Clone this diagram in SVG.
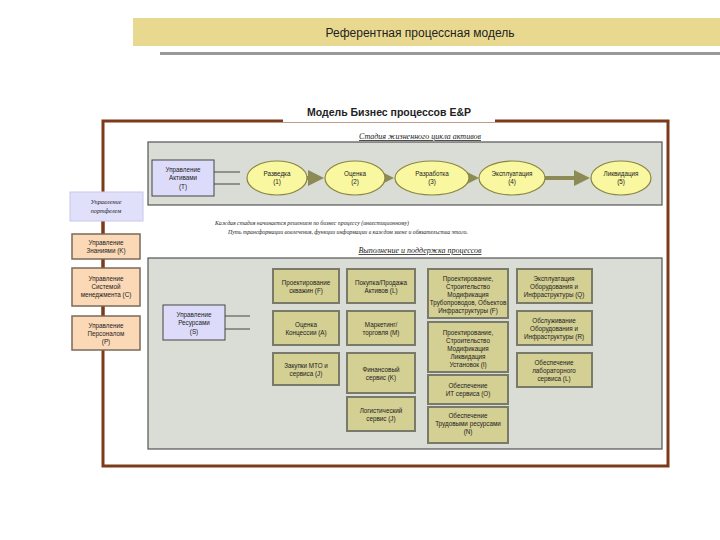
<svg xmlns="http://www.w3.org/2000/svg" width="720" height="540" viewBox="0 0 720 540">
<style>
text{font-family:"Liberation Sans",Arial,sans-serif;fill:#222}
.s{font-size:6.3px;text-anchor:middle}
.i{font-family:"Liberation Serif",serif;font-style:italic}
.ob{fill:#d4cf92;stroke:#7a7a6a;stroke-width:2}
.pe{fill:#fbd9b6;stroke:#7a6a5a;stroke-width:1.5}
.bl{fill:#dcdcfa;stroke:#444;stroke-width:1}
.el{fill:#f9f7a0;stroke:#8a8840;stroke-width:1.2}
.pn{fill:#d9ddd5;stroke:#555;stroke-width:1.2}
</style>
<defs>
<marker id="ar" markerWidth="4" markerHeight="4" refX="3" refY="2" orient="auto"><path d="M0,0L4,2L0,4z" fill="#8c8a55"/></marker>
</defs>
<rect x="133" y="18" width="587" height="28" fill="#e9d990"/>
<text x="420" y="37" font-size="12" text-anchor="middle">Референтная процессная модель</text>
<rect x="160" y="52" width="560" height="3" fill="#999"/>
<rect x="103" y="121" width="565" height="345" fill="#fff" stroke="#7b3b1b" stroke-width="3"/>
<rect x="283" y="104" width="212" height="18" fill="#fff"/>
<text x="389" y="116" font-size="10.5" font-weight="bold" text-anchor="middle">Модель Бизнес процессов E&amp;P</text>
<line x1="103" y1="192" x2="103" y2="350" stroke="#7b3b1b" stroke-width="3"/>
<text x="420" y="139" class="i" font-size="8" text-anchor="middle" text-decoration="underline">Стадия жизненного цикла активов</text>
<rect class="pn" x="148" y="142" width="514" height="63"/>
<text x="215" y="225" class="i" font-size="5.8">Каждая стадия начинается решением по бизнес процессу (инвестиционному)</text>
<text x="228" y="234" class="i" font-size="5.8">Путь трансформации вовлечения, функции информации в каждом звене и обязательства этого.</text>
<text x="420" y="253" class="i" font-size="8" text-anchor="middle" text-decoration="underline">Выполнение и поддержка процессов</text>
<rect class="pn" x="148" y="258" width="514" height="191"/>
<g id="connectors" stroke="#8c8a55" stroke-width="4" marker-end="url(#ar)">
<line x1="214" y1="172" x2="240" y2="172" stroke="#444" stroke-width="1" marker-end="none"/>
<line x1="214" y1="184" x2="240" y2="184" stroke="#444" stroke-width="1" marker-end="none"/>
<line x1="307" y1="178" x2="320" y2="178"/>
<line x1="385" y1="178" x2="390" y2="178"/>
<line x1="469" y1="178" x2="475" y2="178"/>
<line x1="545" y1="178" x2="586" y2="178"/>
<line x1="225" y1="316" x2="250" y2="316" stroke="#444" stroke-width="1" marker-end="none"/>
<line x1="225" y1="329" x2="250" y2="329" stroke="#444" stroke-width="1" marker-end="none"/>
</g>
<g id="n_T"><rect class="bl" x="152" y="160" width="62" height="36"/><text class="s" x="183" y="172">Управление</text><text class="s" x="183" y="180">Активами</text><text class="s" x="183" y="189">(T)</text></g>
<g id="e1"><ellipse class="el" cx="277" cy="178" rx="30" ry="17"/><text class="s" x="277" y="176">Разведка</text><text class="s" x="277" y="184">(1)</text></g>
<g id="e2"><ellipse class="el" cx="355" cy="178" rx="30" ry="17"/><text class="s" x="355" y="176">Оценка</text><text class="s" x="355" y="184">(2)</text></g>
<g id="e3"><ellipse class="el" cx="432" cy="178" rx="37" ry="17"/><text class="s" x="432" y="176">Разработка</text><text class="s" x="432" y="184">(3)</text></g>
<g id="e4"><ellipse class="el" cx="512" cy="178" rx="33" ry="17"/><text class="s" x="512" y="176">Эксплуатация</text><text class="s" x="512" y="184">(4)</text></g>
<g id="e5"><ellipse class="el" cx="621" cy="178" rx="30" ry="17"/><text class="s" x="621" y="176">Ликвидация</text><text class="s" x="621" y="184">(5)</text></g>
<g id="portf"><rect x="70" y="192" width="73" height="29" fill="#e0e0fb" stroke="#c8c8e8"/><text class="s i" font-size="6.5" x="106" y="204">Управление</text><text class="s i" font-size="6.5" x="106" y="213">портфелем</text></g>
<g id="n_K"><rect class="pe" x="72" y="234" width="68" height="25"/><text class="s" x="106" y="245">Управление</text><text class="s" x="106" y="253">Знаниями (K)</text></g>
<g id="n_C"><rect class="pe" x="72" y="268" width="68" height="38"/><text class="s" x="106" y="281">Управление</text><text class="s" x="106" y="289">Системой</text><text class="s" x="106" y="297">менеджмента (C)</text></g>
<g id="n_P"><rect class="pe" x="72" y="316" width="68" height="34"/><text class="s" x="106" y="328">Управление</text><text class="s" x="106" y="336">Персоналом</text><text class="s" x="106" y="344">(P)</text></g>
<g id="n_S"><rect class="bl" x="163" y="305" width="62" height="35"/><text class="s" x="194" y="317">Управление</text><text class="s" x="194" y="325">Ресурсами</text><text class="s" x="194" y="334">(S)</text></g>
<g id="b1"><rect class="ob" x="273" y="269" width="66" height="34"/><text class="s" x="306" y="285">Проектирование</text><text class="s" x="306" y="293">скважин (F)</text></g>
<g id="b2"><rect class="ob" x="273" y="311" width="66" height="34"/><text class="s" x="306" y="327">Оценка</text><text class="s" x="306" y="335">Концессии (A)</text></g>
<g id="b3"><rect class="ob" x="273" y="353" width="66" height="32"/><text class="s" x="306" y="368">Закупки МТО и</text><text class="s" x="306" y="376">сервиса (J)</text></g>
<g id="b4"><rect class="ob" x="347" y="269" width="68" height="34"/><text class="s" x="381" y="285">Покупка/Продажа</text><text class="s" x="381" y="293">Активов (L)</text></g>
<g id="b5"><rect class="ob" x="347" y="311" width="68" height="34"/><text class="s" x="381" y="327">Маркетинг/</text><text class="s" x="381" y="335">торговля (M)</text></g>
<g id="b6"><rect class="ob" x="347" y="353" width="68" height="40"/><text class="s" x="381" y="372">Финансовый</text><text class="s" x="381" y="380">сервис (K)</text></g>
<g id="b7"><rect class="ob" x="347" y="397" width="68" height="34"/><text class="s" x="381" y="413">Логистический</text><text class="s" x="381" y="421">сервис (J)</text></g>
<g id="b8"><rect class="ob" x="428" y="269" width="80" height="49"/><text class="s" x="468" y="281">Проектирование,</text><text class="s" x="468" y="289">Строительство</text><text class="s" x="468" y="297">Модификация</text><text class="s" x="468" y="305">Трубопроводов, Объектов</text><text class="s" x="468" y="313">Инфраструктуры (F)</text></g>
<g id="b9"><rect class="ob" x="428" y="322" width="80" height="50"/><text class="s" x="468" y="335">Проектирование,</text><text class="s" x="468" y="343">Строительство</text><text class="s" x="468" y="351">Модификация</text><text class="s" x="468" y="359">Ликвидация</text><text class="s" x="468" y="367">Установок (I)</text></g>
<g id="b10"><rect class="ob" x="428" y="375" width="80" height="29"/><text class="s" x="468" y="388">Обеспечение</text><text class="s" x="468" y="396">ИТ сервиса (O)</text></g>
<g id="b11"><rect class="ob" x="428" y="407" width="80" height="36"/><text class="s" x="468" y="418">Обеспечение</text><text class="s" x="468" y="426">Трудовыми ресурсами</text><text class="s" x="468" y="434">(N)</text></g>
<g id="b12"><rect class="ob" x="517" y="269" width="75" height="34"/><text class="s" x="554" y="281">Эксплуатация</text><text class="s" x="554" y="289">Оборудования и</text><text class="s" x="554" y="297">Инфраструктуры (Q)</text></g>
<g id="b13"><rect class="ob" x="517" y="311" width="75" height="34"/><text class="s" x="554" y="323">Обслуживание</text><text class="s" x="554" y="331">Оборудования и</text><text class="s" x="554" y="339">Инфраструктуры (R)</text></g>
<g id="b14"><rect class="ob" x="517" y="353" width="75" height="34"/><text class="s" x="554" y="365">Обеспечение</text><text class="s" x="554" y="373">лабораторного</text><text class="s" x="554" y="381">сервиса (L)</text></g>
</svg>
